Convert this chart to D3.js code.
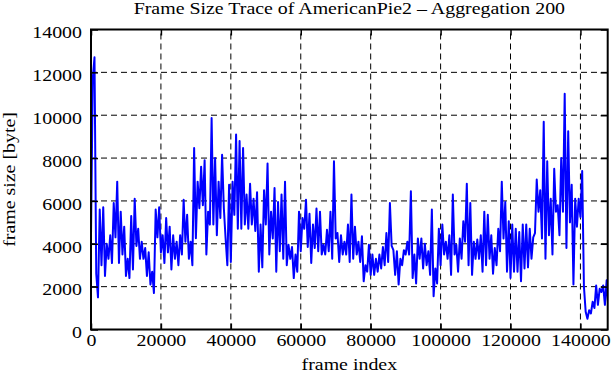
<!DOCTYPE html>
<html><head><meta charset="utf-8">
<script src="https://cdn.jsdelivr.net/npm/d3@7"></script>
<style>body{margin:0;background:#fff}</style>
</head><body><svg id="chart" width="611" height="380"></svg>
<script>
const titleText = "Frame Size Trace of AmericanPie2 – Aggregation 200";
const xLabel = "frame index";
const yLabel = "frame size [byte]";
const xTicks = [0, 20000, 40000, 60000, 80000, 100000, 120000, 140000];
const yTicks = [0, 2000, 4000, 6000, 8000, 10000, 12000, 14000];
const xMax = 147800;
const frameStep = 500; // frames between the readings below
const frameSize = [
  4400, 11700, 12700, 2600, 1500, 5600, 3000, 5700, 2500, 4000,
  3300, 4400, 3100, 5900, 4300, 6900, 3100, 5500, 3500, 4800,
  2500, 3300, 2400, 5300, 2800, 6100, 3900, 4700, 3300, 4100,
  3300, 3800, 2500, 3600, 2100, 2700, 1700, 5600, 4300, 5700,
  3600, 4400, 3100, 5200, 3600, 4800, 2800, 4400, 3300,
  4100, 3000, 4400, 3500, 6050, 4100, 5350, 3300, 4100, 3000,
  8470, 4260, 6900, 5660, 7600, 5800, 7900, 3500, 5500, 4900,
  9870, 4900, 8000, 4400, 6900, 5200, 8150, 5660, 4260, 3000,
  6750, 3150, 6900, 5350, 9100, 4700, 8800, 4700, 8470, 4900,
  6300, 4700, 6800, 4900, 6100, 4600, 6400, 2700, 4900, 2900,
  6500,
  4900, 7750, 3500, 5500, 4250, 6600, 2700, 5950, 3650, 6300,
  3300, 6900, 3000, 3950, 3300, 3850, 2400, 3500, 2700, 5500,
  3650, 5200, 4700, 6050, 3850, 5400, 3100, 4900, 3800, 5650,
  3650, 5500, 3500, 3950, 3500, 4650, 3650, 5500, 3300, 7850,
  4250, 4500, 3150, 4400, 3500, 4100, 3500, 4900, 3150,
  6300, 3300, 4800, 3500, 4100, 3150, 4350, 2250, 3000, 2700,
  3950, 2550, 3500, 2550, 3300, 2700, 3500, 2850, 3850, 3000,
  4500, 3150, 5900, 3900, 3700, 2550, 3650, 2100, 3300, 3000,
  3700, 3500, 4100, 3500, 6450, 2400, 3500, 2150, 4250, 3300,
  4250, 2850, 4000, 3000, 3650, 2550, 5600, 1550, 2850, 2150,
  4700, 3000, 4900, 3500,
  4100, 3300, 4400, 2550, 6300, 3500, 3950, 2700, 4250, 3300,
  5050, 4100, 6800, 3000, 5900, 2550, 4100, 3300, 4200, 3300,
  4400, 2700, 5500, 3000, 5350, 3300, 4400, 2600, 3800, 3000,
  4700, 3650, 6900, 4250, 5950, 2700, 5050, 2400, 4900, 2700,
  4700, 2700, 4550, 2250, 4900, 2850, 4900,
  2900, 4700, 3300, 4300, 4500, 7000, 5500, 6500, 4250, 9700,
  3300, 7850, 4400, 6100, 3500, 7500, 5500, 5800, 4400, 8000,
  5500, 11000, 3800, 9250, 5000, 6750, 2100, 6100, 4800, 6100,
  5250, 7400, 2000, 830, 500, 900, 750, 1300, 1000, 2050,
  1150, 1900, 1750, 2050, 1150, 2300, 1000
];

const FONT = "'Liberation Serif','Times New Roman',serif";
const FS = 17, SX = 1.17;
const plot = {left: 91, right: 607.7, top: 29.5, bottom: 329.5};

const svg = d3.select("#chart");
svg.append("rect").attr("width", 611).attr("height", 380).attr("fill", "#fff");

const x = d3.scaleLinear().domain([0, xMax]).range([plot.left, plot.right]);
const y = d3.scaleLinear().domain([0, 14000]).range([plot.bottom, plot.top]);

// grid
const grid = svg.append("g").attr("stroke", "#000").attr("stroke-width", 1).attr("stroke-dasharray", "6,4");
grid.selectAll("line.gy").data(yTicks.filter(v => v > 0 && v < 14000)).join("line")
  .attr("class", "gy").attr("x1", plot.left).attr("x2", plot.right)
  .attr("y1", d => y(d)).attr("y2", d => y(d));
grid.selectAll("line.gx").data(xTicks.filter(v => v > 0)).join("line")
  .attr("class", "gx").attr("y1", plot.bottom).attr("y2", plot.top)
  .attr("x1", d => x(d)).attr("x2", d => x(d));

// data line
svg.append("clipPath").attr("id", "clip").append("rect")
  .attr("x", plot.left).attr("y", plot.top)
  .attr("width", plot.right - plot.left).attr("height", plot.bottom - plot.top);
const line = d3.line().x((d, i) => x(i * frameStep)).y(d => y(d));
svg.append("path").datum(frameSize).attr("clip-path", "url(#clip)")
  .attr("d", line).attr("fill", "none").attr("stroke", "#0000ff")
  .attr("stroke-width", 2).attr("stroke-linejoin", "round");

// axes
function styleAxis(g) {
  g.select(".domain").remove();
  g.selectAll(".tick line").attr("stroke", "#000").attr("stroke-width", 1.5);
  g.attr("font-family", FONT).attr("font-size", FS);
  g.selectAll("text").attr("fill", "#000");
}
const axL = svg.append("g").attr("transform", `translate(${plot.left},0)`)
  .call(d3.axisLeft(y).tickValues(yTicks).tickSize(-7).tickSizeOuter(0).tickFormat(d3.format("d")));
styleAxis(axL);
axL.selectAll("text").attr("x", null).attr("dy", null)
  .attr("transform", `translate(-9,8.3) scale(${SX},1)`);

const axR = svg.append("g").attr("transform", `translate(${plot.right},0)`)
  .call(d3.axisRight(y).tickValues(yTicks).tickSize(-7).tickSizeOuter(0).tickFormat(""));
styleAxis(axR);

const axB = svg.append("g").attr("transform", `translate(0,${plot.bottom})`)
  .call(d3.axisBottom(x).tickValues(xTicks).tickSize(-6).tickSizeOuter(0).tickFormat(d3.format("d")));
styleAxis(axB);
axB.selectAll("text").attr("y", null).attr("dy", null)
  .attr("transform", `translate(0,16.5) scale(${SX},1)`);

const axT = svg.append("g").attr("transform", `translate(0,${plot.top})`)
  .call(d3.axisTop(x).tickValues(xTicks).tickSize(-6).tickSizeOuter(0).tickFormat(""));
styleAxis(axT);

// frame
svg.append("rect").attr("x", plot.left).attr("y", plot.top)
  .attr("width", plot.right - plot.left).attr("height", plot.bottom - plot.top)
  .attr("fill", "none").attr("stroke", "#000").attr("stroke-width", 2);

// titles
const cx = (plot.left + plot.right) / 2;
svg.append("text").text(titleText).attr("text-anchor", "middle")
  .attr("font-family", FONT).attr("font-size", FS).attr("fill", "#000")
  .attr("transform", `translate(${cx},13.5) scale(${SX},1)`);
svg.append("text").text(xLabel).attr("text-anchor", "middle")
  .attr("font-family", FONT).attr("font-size", FS).attr("fill", "#000")
  .attr("transform", `translate(${cx},370) scale(${SX},1)`);
svg.append("text").text(yLabel).attr("text-anchor", "middle")
  .attr("font-family", FONT).attr("font-size", FS).attr("fill", "#000")
  .attr("transform", `translate(15,${(plot.top + plot.bottom) / 2}) rotate(-90) scale(${SX},1)`);
</script>
</body></html>
